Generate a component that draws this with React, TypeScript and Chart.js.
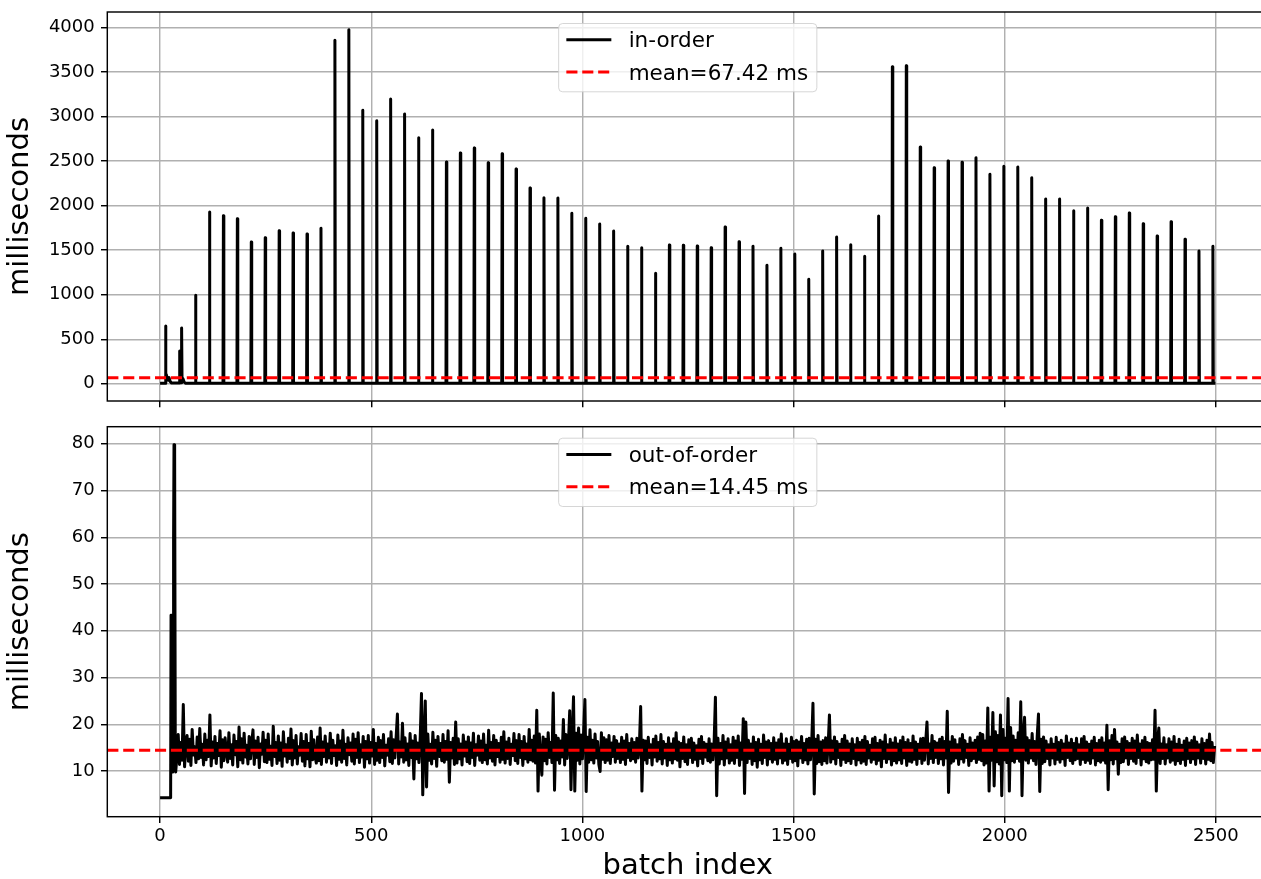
import React, { useEffect, useRef } from "react";
import { Chart, registerables } from "chart.js";

Chart.register(...registerables);

// ---------------- data ----------------
const xTickValues = [0, 500, 1000, 1500, 2000, 2500];
const topYTickValues = [0, 500, 1000, 1500, 2000, 2500, 3000, 3500, 4000];
const bottomYTickValues = [10, 20, 30, 40, 50, 60, 70, 80];

const xLabel = "batch index";
const yLabel = "milliseconds";

// in-order series (sparse: baseline + spikes)
const inOrderLabel = "in-order";
const inOrderMean = 67.42;
const inOrderBaseline = 6;
const inOrderLastBatch = 2499;
const inOrderEarlyX = [0, 12, 13, 14, 15, 17, 19, 21, 24, 27, 45, 46, 47, 50, 51, 52, 54, 57, 60];
const inOrderEarlyY = [5, 5, 648, 115, 100, 55, 40, 70, 25, 8, 8, 367, 15, 10, 626, 45, 60, 20, 6];
const inOrderSpikeX = [
  84, 117, 150, 183, 216, 249, 282, 315, 348, 381, 414, 447, 480, 513, 546, 579, 612, 645, 678, 711,
  744, 777, 810, 843, 876, 909, 942, 975, 1008, 1041, 1074, 1107, 1140, 1173, 1206, 1239, 1272, 1305,
  1338, 1371, 1404, 1437, 1470, 1503, 1536, 1569, 1602, 1635, 1668, 1701, 1734, 1767, 1800, 1833, 1866,
  1899, 1932, 1965, 1998, 2031, 2064, 2097, 2130, 2163, 2196, 2229, 2262, 2295, 2328, 2361, 2394, 2427,
  2460, 2493,
];
const inOrderSpikeY = [
  993, 1929, 1888, 1854, 1592, 1640, 1719, 1693, 1682, 1746, 3858, 3978, 3072, 2955, 3199,
  3030, 2764, 2851, 2491, 2592, 2648, 2483, 2584, 2412, 2199, 2090, 2086, 1915, 1858, 1794, 1716, 1544,
  1528, 1240, 1558, 1555, 1547, 1528, 1761, 1596, 1544, 1330, 1521, 1457,
  1173, 1491, 1648, 1562, 1431, 1884, 3562, 3573, 2660, 2427, 2502, 2488, 2539, 2353, 2443, 2435, 2315,
  2075, 2075, 1944, 1974, 1836, 1876, 1918, 1798, 1659, 1820, 1622, 1491, 1544,
];

// out-of-order series
const outOfOrderLabel = "out-of-order";
const outOfOrderMean = 14.45;
const outOfOrderEarlyX = [0, 25, 26, 27, 28, 29, 30, 31, 32, 33, 34, 35, 36, 37];
const outOfOrderEarlyY = [4.3, 4.3, 43.3, 12, 28, 9.8, 35, 14, 60, 79.8, 79.6, 78, 16, 9.8];
const outOfOrderStart = 40;
const outOfOrderStep = 3;
const outOfOrderValues = [
  13.2, 17.8, 11.4, 16.1, 12.3, 24.2, 10.9, 15.4, 17.6, 12.1,
  16.8, 11.2, 18.9, 13.4, 15.2, 11.8, 17.3, 12.6, 19.1, 12.9,
  15.7, 11.3, 17.9, 12.4, 16.6, 13.1, 22.0, 11.1, 16.2, 12.8,
  17.4, 11.6, 15.9, 13.3, 18.6, 10.8, 16.7, 12.2, 17.1, 14.0,
  11.9, 18.2, 12.7, 15.6, 11.3, 17.7, 13.5, 16.3, 10.9, 19.4,
  12.4, 16.9, 11.7, 18.1, 13.0, 15.5, 11.5, 17.4, 12.6, 16.0,
  18.8, 11.4, 16.4, 12.9, 17.2, 10.7, 15.8, 13.6, 18.3, 12.0,
  16.6, 11.8, 17.9, 12.5, 15.3, 11.2, 19.6, 13.1, 16.1, 11.6,
  17.5, 12.3, 16.0, 11.0, 18.4, 13.2, 15.6, 11.9, 17.0, 12.7,
  19.0, 11.3, 16.5, 12.8, 17.6, 11.5, 15.2, 13.4, 18.0, 12.1,
  16.3, 11.1, 17.8, 12.6, 15.9, 10.9, 18.5, 12.4, 16.7, 13.0,
  11.7, 17.3, 12.2, 19.2, 11.4, 16.2, 13.1, 17.5, 11.9, 15.8,
  12.8, 18.1, 11.6, 16.6, 13.3, 15.4, 11.2, 17.7, 12.5, 16.4,
  11.9, 18.7, 12.7, 15.7, 11.3, 17.1, 13.5, 16.0, 12.1, 17.9,
  11.5, 16.8, 12.9, 18.2, 11.8, 15.6, 13.0, 17.4, 10.8, 16.3,
  12.6, 17.6, 11.7, 16.1, 13.2, 18.9, 11.4, 15.9, 12.3, 17.2,
  11.8, 16.5, 12.9, 17.8, 11.1, 15.5, 13.4, 16.9, 12.0, 18.4,
  11.6, 16.7, 12.8, 17.3, 22.2, 11.5, 16.2, 13.0, 20.2, 11.9,
  17.1, 12.4, 15.8, 11.2, 18.0, 12.9, 16.4, 8.3, 17.6, 12.6,
  16.0, 11.8, 17.2, 26.6, 4.9, 16.8, 25.0, 6.6, 17.9, 12.3,
  15.7, 11.5, 18.3, 12.7, 16.6, 11.0, 17.4, 13.1, 15.9, 12.2,
  17.8, 11.9, 16.3, 12.5, 18.6, 7.6, 16.1, 12.8, 17.0, 11.4,
  20.5, 11.7, 16.9, 12.6, 15.8, 11.3, 17.7, 13.2, 16.2, 12.0,
  17.3, 11.6, 16.0, 12.9, 18.1, 11.2, 15.6, 13.4, 17.5, 12.3,
  16.4, 11.8, 17.9, 12.4, 15.5, 11.5, 18.7, 12.8, 16.1, 12.1,
  17.6, 11.3, 16.6, 13.1, 15.9, 11.9, 17.2, 12.5, 18.4, 11.7,
  16.2, 12.7, 17.0, 11.4, 15.7, 13.3, 18.0, 12.2, 16.5, 11.6,
  17.8, 12.9, 16.3, 11.2, 17.4, 12.6, 15.8, 11.9, 18.9, 12.4,
  16.6, 12.1, 17.5, 11.7, 23.0, 5.7, 17.9, 12.8, 9.1, 17.3,
  12.2, 16.8, 11.5, 18.2, 12.9, 16.1, 11.8, 26.7, 5.9, 17.6,
  12.4, 17.0, 11.6, 16.4, 13.0, 21.0, 11.3, 17.8, 12.7, 16.2,
  22.9, 6.0, 17.4, 25.9, 5.7, 18.1, 12.3, 19.2, 11.5, 17.7,
  12.6, 18.5, 25.3, 5.6, 17.2, 11.9, 18.8, 12.4, 16.6, 11.7,
  17.9, 12.8, 16.3, 11.4, 9.9, 18.2, 12.5, 17.1, 11.8, 16.7,
  12.3, 17.6, 11.6, 16.0, 13.1, 17.4, 11.9, 16.5, 12.7, 15.8,
  11.8, 17.2, 12.5, 16.4, 11.4, 17.8, 12.9, 15.9, 12.2, 16.9,
  12.6, 16.1, 11.9, 17.0, 12.8, 15.7, 23.8, 5.7, 16.6, 12.4,
  16.4, 11.6, 17.2, 12.9, 15.6, 11.3, 16.8, 13.0, 17.5, 12.1,
  16.1, 12.6, 17.8, 11.5, 16.3, 12.8, 15.7, 11.2, 17.1, 12.4,
  15.8, 11.7, 16.9, 12.6, 18.2, 12.3, 16.2, 10.9, 15.9, 12.7,
  17.3, 12.0, 15.6, 11.4, 16.7, 12.9, 17.0, 11.8, 16.0, 12.5,
  15.4, 11.1, 16.8, 12.7, 17.4, 11.6, 16.1, 13.0, 15.7, 12.2,
  16.9, 11.9, 15.8, 12.4, 16.5, 25.8, 4.7, 17.0, 11.5, 15.9,
  12.6, 17.6, 11.3, 16.2, 12.8, 16.9, 11.7, 15.6, 12.3, 17.2,
  11.6, 16.4, 12.9, 17.5, 11.2, 16.0, 12.5, 21.2, 5.2, 20.5,
  11.8, 16.6, 12.7, 15.8, 11.4, 17.3, 12.2, 16.1, 10.8, 16.8,
  12.4, 15.7, 11.6, 17.7, 12.9, 16.2, 11.3, 16.5, 12.6, 15.9,
  11.9, 17.1, 12.5, 16.0, 11.5, 16.7, 12.8, 17.9, 11.7, 15.8,
  12.3, 16.9, 11.4, 15.7, 12.7, 17.2, 11.9, 16.3, 12.2, 16.6,
  11.1, 16.2, 12.8, 17.4, 11.8, 15.9, 12.4, 16.8, 11.5, 17.0,
  12.4, 16.1, 24.5, 5.1, 16.8, 11.6, 17.6, 12.0, 16.2, 11.4,
  16.5, 12.2, 17.1, 11.7, 15.6, 22.0, 11.9, 16.4, 12.6, 17.3,
  11.5, 16.3, 12.9, 15.7, 11.2, 16.8, 12.5, 17.6, 11.8, 16.4,
  12.2, 15.8, 11.6, 16.9, 12.7, 15.6, 11.3, 17.0, 12.4, 16.1,
  11.7, 16.6, 12.1, 17.4, 11.4, 16.3, 12.8, 15.5, 11.9, 16.9,
  12.5, 17.2, 11.5, 15.9, 12.3, 16.6, 10.9, 16.2, 12.7, 17.7,
  11.8, 15.6, 12.6, 16.8, 11.3, 16.0, 12.2, 17.1, 11.7, 15.8,
  12.4, 16.5, 11.6, 17.3, 12.8, 16.1, 11.2, 16.7, 12.1, 15.9,
  11.9, 17.5, 12.5, 16.2, 11.4, 15.7, 12.7, 16.9, 11.6, 17.0,
  12.3, 16.4, 20.5, 11.5, 15.8, 12.7, 17.6, 11.8, 16.3, 12.9,
  16.0, 11.6, 16.8, 12.6, 17.2, 11.3, 16.3, 12.8, 22.8, 5.4,
  16.2, 11.7, 17.4, 12.1, 16.7, 12.8, 15.6, 11.4, 16.9, 12.6,
  17.8, 11.9, 16.5, 12.9, 15.7, 11.2, 17.1, 12.2, 16.0, 12.7,
  16.6, 11.8, 17.3, 12.5, 18.1, 12.2, 17.8, 11.3, 16.4, 11.7,
  23.5, 5.7, 17.2, 12.3, 22.5, 6.8, 18.4, 12.0, 17.6, 11.5,
  22.0, 4.7, 18.9, 12.4, 17.0, 11.8, 25.5, 5.7, 19.3, 12.2,
  17.5, 11.9, 16.6, 12.7, 18.2, 12.1, 24.8, 4.7, 17.4, 21.5,
  12.3, 17.1, 11.7, 16.5, 12.8, 18.0, 12.2, 16.3, 11.4, 17.5,
  22.2, 5.6, 16.8, 11.6, 17.3, 12.0, 16.4, 12.7, 15.6, 11.3,
  16.9, 12.8, 15.7, 11.5, 17.2, 12.5, 16.1, 11.9, 16.6, 12.6,
  15.8, 11.2, 17.5, 12.9, 16.0, 12.2, 16.8, 11.6, 15.9, 12.4,
  17.0, 12.7, 15.6, 11.4, 16.9, 12.5, 17.4, 11.8, 16.2, 12.3,
  15.7, 11.6, 16.4, 12.8, 17.2, 11.3, 15.9, 12.2, 16.6, 11.9,
  17.1, 12.3, 16.0, 11.7, 19.8, 6.0, 16.5, 12.4, 17.6, 11.5,
  18.9, 12.6, 16.2, 9.3, 15.7, 11.8, 16.9, 12.0, 17.3, 12.8,
  16.3, 11.4, 15.9, 12.7, 17.0, 12.1, 16.4, 11.6, 17.7, 12.9,
  15.8, 11.3, 16.5, 12.6, 17.2, 12.0, 16.1, 11.7, 15.9, 12.4,
  16.7, 12.5, 23.0, 5.7, 16.4, 19.2, 11.6, 15.8, 12.7, 17.1,
  11.5, 15.6, 12.8, 16.9, 11.9, 16.2, 12.3, 17.4, 11.4, 15.7,
  12.2, 16.8, 11.6, 15.5, 12.5, 16.4, 11.2, 17.0, 12.7, 16.0,
  11.8, 16.5, 12.6, 17.3, 11.4, 16.2, 12.8, 15.6, 11.7, 16.9,
  12.7, 15.9, 11.5, 16.6, 12.5, 17.9, 12.2, 16.1, 11.8, 15.4,
];

// axis ranges
const xMin = -124.95;
const xMax = 2623.95;
const topYMin = -194;
const topYMax = 4176;
const bottomYMin = 0.23;
const bottomYMax = 83.64;

// ---------------- helpers ----------------
const FONT = '"DejaVu Sans", "Liberation Sans", sans-serif';
const LINE_W = 3;
const DASH = [11.1, 4.8];

type Pt = { x: number; y: number };

function buildInOrder(): Pt[] {
  const pts: Pt[] = [];
  for (let i = 0; i < inOrderEarlyX.length; i++) pts.push({ x: inOrderEarlyX[i], y: inOrderEarlyY[i] });
  for (let i = 0; i < inOrderSpikeX.length; i++) {
    const s = inOrderSpikeX[i];
    pts.push({ x: s - 1, y: inOrderBaseline }, { x: s, y: inOrderSpikeY[i] }, { x: s + 1, y: inOrderBaseline });
  }
  pts.push({ x: inOrderLastBatch, y: inOrderBaseline });
  return pts;
}

function buildOutOfOrder(): Pt[] {
  const pts: Pt[] = [];
  for (let i = 0; i < outOfOrderEarlyX.length; i++) pts.push({ x: outOfOrderEarlyX[i], y: outOfOrderEarlyY[i] });
  for (let i = 0; i < outOfOrderValues.length; i++)
    pts.push({ x: outOfOrderStart + i * outOfOrderStep, y: outOfOrderValues[i] });
  return pts;
}

const framePlugin = {
  id: "mplFrame",
  afterDatasetsDraw(chart: any) {
    const { ctx, chartArea: a } = chart;
    ctx.save();
    ctx.strokeStyle = "#000";
    ctx.lineWidth = 1.44;
    ctx.strokeRect(a.left, a.top, a.right - a.left, a.bottom - a.top);
    ctx.restore();
  },
};

const legendPlugin = {
  id: "mplLegend",
  afterDraw(chart: any, _args: any, opts: any) {
    const entries = opts && opts.entries;
    if (!entries) return;
    const { ctx, chartArea: a } = chart;
    const fs = 21.5;
    ctx.save();
    ctx.font = `${fs}px ${FONT}`;
    let textW = 0;
    for (const e of entries) textW = Math.max(textW, ctx.measureText(e.label).width);
    const padL = 7.7, handleLen = 45, gap = 17.3, padR = 8.7;
    const w = padL + handleLen + gap + textW + padR;
    const h = 68.3;
    const cx = (a.left + a.right) / 2;
    const x0 = cx - w / 2;
    const y0 = a.top + 11.5;
    const r = 4;
    ctx.beginPath();
    ctx.moveTo(x0 + r, y0);
    ctx.lineTo(x0 + w - r, y0);
    ctx.arcTo(x0 + w, y0, x0 + w, y0 + r, r);
    ctx.lineTo(x0 + w, y0 + h - r);
    ctx.arcTo(x0 + w, y0 + h, x0 + w - r, y0 + h, r);
    ctx.lineTo(x0 + r, y0 + h);
    ctx.arcTo(x0, y0 + h, x0, y0 + h - r, r);
    ctx.lineTo(x0, y0 + r);
    ctx.arcTo(x0, y0, x0 + r, y0, r);
    ctx.closePath();
    ctx.fillStyle = "rgba(255,255,255,0.8)";
    ctx.fill();
    ctx.strokeStyle = "rgba(204,204,204,0.8)";
    ctx.lineWidth = 1;
    ctx.stroke();
    entries.forEach((e: any, i: number) => {
      const yy = y0 + 16.3 + i * 32.3;
      ctx.beginPath();
      ctx.setLineDash(e.dash || []);
      ctx.strokeStyle = e.color;
      ctx.lineWidth = LINE_W;
      ctx.lineCap = "butt";
      ctx.moveTo(x0 + padL, yy);
      ctx.lineTo(x0 + padL + handleLen, yy);
      ctx.stroke();
      ctx.setLineDash([]);
      ctx.fillStyle = "#000";
      ctx.textAlign = "left";
      ctx.textBaseline = "alphabetic";
      ctx.fillText(e.label, x0 + padL + handleLen + gap, yy + 7.6);
    });
    ctx.restore();
  },
};

type Cfg = {
  points: Pt[];
  label: string;
  mean: number;
  yMin: number;
  yMax: number;
  yTicks: number[];
  showXLabels: boolean;
  xAxisHeight: number;
  padTop: number;
};

function makeConfig(c: Cfg): any {
  const grid = {
    color: "#b0b0b0",
    lineWidth: 1.44,
    tickColor: "#000",
    tickWidth: 1.44,
    tickLength: 6.3,
    drawTicks: true,
  };
  return {
    type: "line",
    data: {
      datasets: [
        {
          label: "mean",
          data: [
            { x: xMin, y: c.mean },
            { x: xMax, y: c.mean },
          ],
          borderColor: "#ff0000",
          borderWidth: LINE_W,
          borderDash: DASH,
          borderCapStyle: "butt",
          pointRadius: 0,
          fill: false,
          order: 0,
        },
        {
          label: c.label,
          data: c.points,
          borderColor: "#000000",
          borderWidth: LINE_W,
          borderJoinStyle: "round",
          pointRadius: 0,
          tension: 0,
          fill: false,
          order: 1,
        },
      ],
    },
    options: {
      responsive: false,
      animation: false,
      devicePixelRatio: 1,
      events: [],
      layout: { padding: { top: c.padTop, right: 11.8, bottom: 0, left: 0 } },
      scales: {
        x: {
          type: "linear",
          min: xMin,
          max: xMax,
          afterBuildTicks: (s: any) => {
            s.ticks = xTickValues.map((v) => ({ value: v }));
          },
          afterFit: (s: any) => {
            s.height = c.xAxisHeight;
            s.paddingLeft = 0;
            s.paddingRight = 0;
            s.paddingTop = 0;
            s.paddingBottom = 0;
          },
          ticks: {
            display: c.showXLabels,
            autoSkip: false,
            maxRotation: 0,
            minRotation: 0,
            padding: 3,
            color: "#000",
            font: { family: FONT, size: 18 },
            callback: (v: any) => String(v),
          },
          grid,
          border: { display: false },
          title: c.showXLabels
            ? {
                display: true,
                text: xLabel,
                color: "#000",
                font: { family: FONT, size: 29 },
                padding: { top: 0, bottom: -5 },
              }
            : { display: false },
        },
        y: {
          type: "linear",
          min: c.yMin,
          max: c.yMax,
          afterBuildTicks: (s: any) => {
            s.ticks = c.yTicks.map((v) => ({ value: v }));
          },
          afterFit: (s: any) => {
            s.width = 107.3;
            s.paddingTop = 0;
            s.paddingBottom = 0;
            s.paddingLeft = 0;
            s.paddingRight = 0;
          },
          ticks: {
            autoSkip: false,
            padding: 6.3,
            color: "#000",
            font: { family: FONT, size: 18 },
            callback: (v: any) => String(v),
          },
          grid,
          border: { display: false },
          title: {
            display: true,
            text: yLabel,
            color: "#000",
            font: { family: FONT, size: 29 },
            padding: { top: 3, bottom: 0 },
          },
        },
      },
      plugins: {
        legend: { display: false },
        tooltip: { enabled: false },
        mplLegend: {
          entries: [
            { label: c.label, color: "#000000", dash: [] },
            { label: `mean=${c.mean.toFixed(2)} ms`, color: "#ff0000", dash: DASH },
          ],
        },
      },
    },
    plugins: [framePlugin, legendPlugin],
  };
}

export default function App() {
  const topRef = useRef<HTMLCanvasElement>(null);
  const botRef = useRef<HTMLCanvasElement>(null);

  useEffect(() => {
    const top = new Chart(
      topRef.current as HTMLCanvasElement,
      makeConfig({
        points: buildInOrder(),
        label: inOrderLabel,
        mean: inOrderMean,
        yMin: topYMin,
        yMax: topYMax,
        yTicks: topYTickValues,
        showXLabels: false,
        xAxisHeight: 19,
        padTop: 12,
      })
    );
    const bottom = new Chart(
      botRef.current as HTMLCanvasElement,
      makeConfig({
        points: buildOutOfOrder(),
        label: outOfOrderLabel,
        mean: outOfOrderMean,
        yMin: bottomYMin,
        yMax: bottomYMax,
        yTicks: bottomYTickValues,
        showXLabels: true,
        xAxisHeight: 62.3,
        padTop: 6.7,
      })
    );
    return () => {
      top.destroy();
      bottom.destroy();
    };
  }, []);

  return (
    <div
      style={{
        position: "fixed",
        left: 0,
        top: 0,
        width: 1261,
        height: 879,
        overflow: "hidden",
        background: "#ffffff",
      }}
    >
      <canvas
        ref={topRef}
        width={1280}
        height={420}
        style={{ position: "absolute", left: 0, top: 0, width: 1280, height: 420 }}
      />
      <canvas
        ref={botRef}
        width={1280}
        height={459}
        style={{ position: "absolute", left: 0, top: 420, width: 1280, height: 459 }}
      />
    </div>
  );
}
